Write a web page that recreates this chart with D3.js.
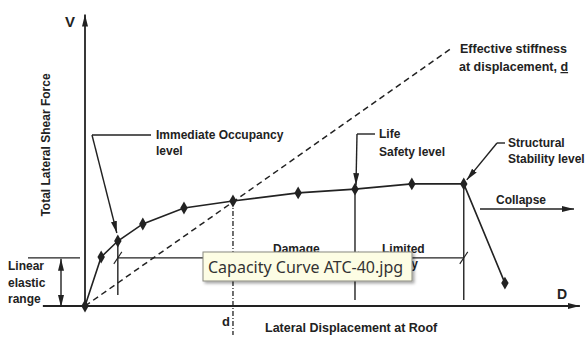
<!DOCTYPE html>
<html>
<head>
<meta charset="utf-8">
<script src="https://cdn.jsdelivr.net/npm/d3@7"></script>
<style>
  body { margin: 0; background: #fff; }
  text { font-family: "Liberation Sans", Arial, sans-serif; fill: #222; }
</style>
</head>
<body>
<div id="chart"></div>
<script>
// capacity curve: roof displacement vs base shear (arbitrary units 0-100)
const curveDisp = [0, 3.3, 6.7, 11.8, 20.2, 30.2, 43.5, 55.1, 66.7, 77.3, 85.7];
const curveForce = [0, 16.9, 22.4, 28.3, 33.8, 36.2, 39.0, 40.3, 42.1, 42.1, 7.9];
const stiffnessEnd = [74.9, 89.0];
const levelDisp = [6.7, 30.2, 55.1, 77.3];
const elasticLimit = 16.6;

const width = 587, height = 338;
const x = d3.scaleLinear().domain([0, 100]).range([85, 575]);
const y = d3.scaleLinear().domain([0, 100]).range([306, 16]);

const svg = d3.select("#chart").append("svg")
  .attr("width", width).attr("height", height);

const defs = svg.append("defs");
defs.append("marker").attr("id", "arr")
  .attr("viewBox", "0 0 12 6").attr("refX", 12).attr("refY", 3)
  .attr("markerWidth", 12).attr("markerHeight", 6)
  .attr("markerUnits", "userSpaceOnUse").attr("orient", "auto-start-reverse")
  .append("path").attr("d", "M0,0L12,3L0,6Z").attr("fill", "#222");
const shadow = defs.append("filter").attr("id", "shadow")
  .attr("x", "-10%").attr("y", "-20%").attr("width", "130%").attr("height", "160%");
shadow.append("feDropShadow").attr("dx", 2).attr("dy", 2)
  .attr("stdDeviation", 1.5).attr("flood-color", "#000").attr("flood-opacity", 0.35);

const ink = "#222";
const fs = 12;
function line(x1, y1, x2, y2) {
  return svg.append("line").attr("x1", x1).attr("y1", y1).attr("x2", x2).attr("y2", y2)
    .attr("stroke", ink).attr("stroke-width", 1.4);
}
function label(tx, ty, t, size) {
  return svg.append("text").attr("x", tx).attr("y", ty)
    .attr("font-size", size || fs).attr("font-weight", "bold").text(t);
}

// axes
line(x(-8.6), y(0), x(101), y(0)).attr("marker-end", "url(#arr)").attr("stroke-width", 1.8);
line(x(0), y(0), x(0), y(100.5)).attr("marker-end", "url(#arr)").attr("stroke-width", 1.8);
label(65, 27, "V", 15);
label(557, 299, "D", 14);
svg.append("text").attr("transform", "translate(50,145) rotate(-90)")
  .attr("text-anchor", "middle").attr("font-size", 12).attr("font-weight", "bold")
  .text("Total Lateral Shear Force");
label(265, 332, "Lateral Displacement at Roof", 12.5);

// effective stiffness line
line(x(0), y(0), x(stiffnessEnd[0]), y(stiffnessEnd[1]))
  .attr("stroke-dasharray", "6,4").attr("stroke-width", 1.5);

// linear elastic range
line(28, y(elasticLimit), 80, y(elasticLimit));
line(x(levelDisp[0]), y(elasticLimit), x(levelDisp[3]), y(elasticLimit));
line(61, y(elasticLimit) + 1, 61, y(0) + 1)
  .attr("marker-start", "url(#arr)").attr("marker-end", "url(#arr)");
["Linear", "elastic", "range"].forEach((t, i) => label(8, 270 + i * 16.5, t));

// performance level verticals
const levelBottom = [3.8, -10, 2.1, 2.1];
levelDisp.forEach((d, i) => {
  const topF = curveForce[curveDisp.indexOf(d)];
  const l = line(x(d), y(topF), x(d), y(levelBottom[i]));
  if (i === 1) l.attr("stroke-dasharray", "5,2,1,2").attr("stroke-width", 1.3);
  else {
    line(x(d) - 4, y(elasticLimit) + 6, x(d) + 4, y(elasticLimit) - 6).attr("stroke-width", 1.1);
  }
});
label(222, 326, "d", 13);

// range labels (partly under the tooltip)
[["Damage", "Control"], ["Limited", "Safety"]].forEach((pair, i) => {
  pair.forEach((t, j) => label(i === 0 ? 273 : 382, 253 + j * 15, t));
});

// capacity curve
const curve = curveDisp.map((d, i) => [x(d), y(curveForce[i])]);
svg.append("path").attr("d", d3.line()(curve))
  .attr("fill", "none").attr("stroke", ink).attr("stroke-width", 1.6);
svg.selectAll(".pt").data(curve).enter().append("path")
  .attr("class", "pt")
  .attr("transform", d => `translate(${d[0]},${d[1]})`)
  .attr("d", d3.symbol(d3.symbolDiamond, 48))
  .attr("fill", ink);

// level annotations
line(92, 135, 151, 135);
line(92, 135, x(levelDisp[0]) - 1, y(curveForce[2]) - 8).attr("marker-end", "url(#arr)");
label(156, 139, "Immediate Occupancy");
label(156, 155, "level");

line(357, 134, 375, 134);
line(357, 134, x(levelDisp[2]) + 1, y(curveForce[7]) - 4).attr("marker-end", "url(#arr)");
label(379, 138, "Life");
label(379, 156, "Safety level");

line(497, 143, 505, 143);
line(497, 143, x(levelDisp[3]) + 3, y(curveForce[9]) - 4).attr("marker-end", "url(#arr)");
label(508, 147, "Structural");
label(508, 163, "Stability level");

label(496, 204, "Collapse");
line(480, 209, 574, 209).attr("marker-end", "url(#arr)");

label(460, 53, "Effective stiffness", 12.5);
const eff = label(459, 71, "", 12.5);
eff.append("tspan").text("at displacement, ");
eff.append("tspan").attr("text-decoration", "underline").text("d");

// tooltip overlay
const tip = svg.append("g").attr("transform", "translate(203,252)");
tip.append("rect").attr("width", 209).attr("height", 29)
  .attr("fill", "#fdfde4").attr("stroke", "#8a8a80").attr("filter", "url(#shadow)");
tip.append("text").attr("x", 5).attr("y", 21)
  .style("font-family", "'Noto Sans', sans-serif")
  .attr("font-size", 16).style("fill", "#333")
  .text("Capacity Curve ATC-40.jpg");
</script>
</body>
</html>
